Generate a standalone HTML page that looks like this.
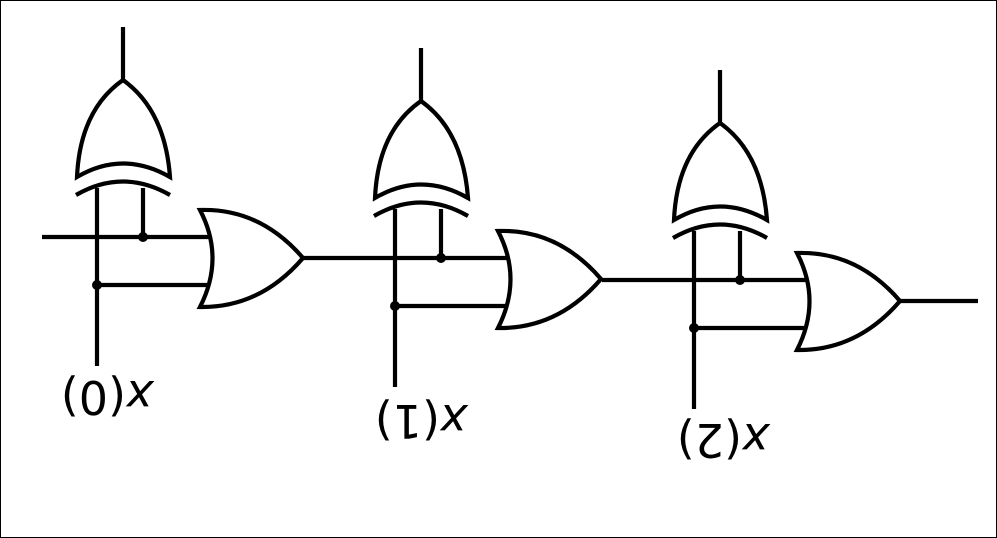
<!DOCTYPE html>
<html><head><meta charset="utf-8"><style>
html,body{margin:0;padding:0;background:#fff;}
svg{display:block;}
text{font-family:"DejaVu Sans","Liberation Sans",sans-serif;}
</style></head><body>
<svg width="997" height="538" viewBox="0 0 997 538">
<rect x="0.5" y="0.5" width="996" height="537" fill="#fff" stroke="#000" stroke-width="1"/>
<defs>
<g id="stage" fill="none" stroke="#000" stroke-width="4.2">
  <line x1="123" y1="27" x2="123" y2="80"/>
  <path d="M123,80 Q165,110 170,177 Q123,150 77,177 Q80,110 123,80 Z" fill="#fff"/>
  <path d="M76,195 Q123,168 170,195"/>
  <line x1="97" y1="188" x2="97" y2="366"/>
  <line x1="143" y1="188" x2="143" y2="237"/>
  <line x1="97" y1="285" x2="212" y2="285"/>
  <path d="M200,210 Q260,208 303,258 Q260,308 200,307 Q225,258 200,210 Z" fill="#fff"/>
  <circle cx="143" cy="237" r="5" fill="#000" stroke="none"/>
  <circle cx="97" cy="285" r="5" fill="#000" stroke="none"/>
</g>
</defs>
<g>
  <line x1="42" y1="237" x2="212" y2="237" stroke="#000" stroke-width="4.2"/>
  <use href="#stage"/>
  <text x="107" y="397" font-size="46" text-anchor="middle" dominant-baseline="central" transform="rotate(180 107 397)"><tspan font-style="italic">x</tspan>(0)</text>
</g>
<g transform="translate(298,21)">
  <line x1="5" y1="237" x2="212" y2="237" stroke="#000" stroke-width="4.2"/>
  <use href="#stage"/>
  <text x="123" y="400" font-size="46" text-anchor="middle" dominant-baseline="central" transform="rotate(180 123 400)"><tspan font-style="italic">x</tspan>(1)</text>
</g>
<g transform="translate(597,43)">
  <line x1="5" y1="237" x2="212" y2="237" stroke="#000" stroke-width="4.2"/>
  <use href="#stage"/>
  <line x1="303" y1="258" x2="381" y2="258" stroke="#000" stroke-width="4.2"/>
  <text x="126" y="397" font-size="46" text-anchor="middle" dominant-baseline="central" transform="rotate(180 126 397)"><tspan font-style="italic">x</tspan>(2)</text>
</g>
</svg>
</body></html>
